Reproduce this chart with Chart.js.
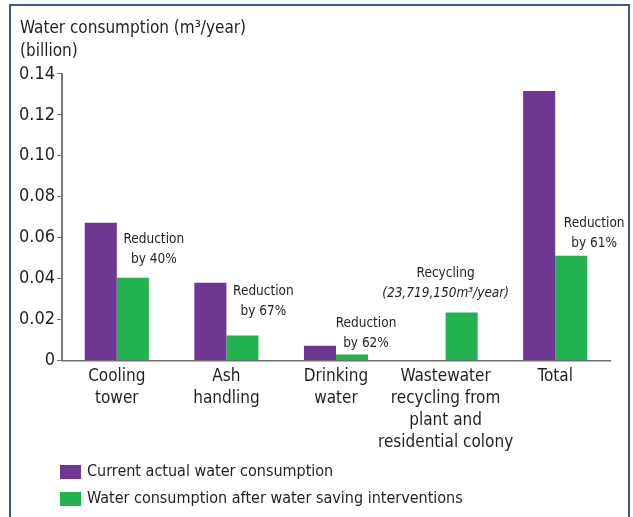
<!DOCTYPE html>
<html lang="en">

<head>
    <meta charset="UTF-8">
    <script src="https://cdn.jsdelivr.net/npm/chart.js"></script>
    <title>Water consumption</title>
    <style>
        body { margin: 0; background: #fff; }
        .moldura {
            position: absolute; left: 9px; top: 4px; width: 617px; height: 530px;
            border: 2px solid #3a5889; border-bottom: none;
        }
        .grafico { position: absolute; left: 0; top: 0; width: 633px; height: 517px; }
    </style>
</head>

<body>
    <div class="moldura"></div>
    <div class="grafico"><canvas id="myChart"></canvas></div>
</body>

<script>
    // dados (bilhoes de m3/ano)
    const categorias = [
        ['Cooling', 'tower'],
        ['Ash', 'handling'],
        ['Drinking', 'water'],
        ['Wastewater', 'recycling from', 'plant and', 'residential colony'],
        ['Total']
    ];
    const consumoAtual = [0.0673, 0.0380, 0.0073, 0, 0.1317];
    const consumoDepois = [0.0405, 0.0122, 0.0030, 0.0235, 0.0512];
    const nomesSeries = ['Current actual water consumption', 'Water consumption after water saving interventions'];
    const ticksY = ['0', '0.02', '0.04', '0.06', '0.08', '0.10', '0.12', '0.14'];
    const notas = [
        ['Reduction', 'by 40%'],
        ['Reduction', 'by 67%'],
        ['Reduction', 'by 62%'],
        ['Recycling', '(23,719,150m³/year)'],
        ['Reduction', 'by 61%']
    ];

    const fonte = "'Liberation Sans Narrow', 'DejaVu Sans Condensed', Roboto, sans-serif";
    const corTexto = '#231f20';
    const roxo = '#703693';
    const verde = '#22b24f';

    // textos de reducao acima das barras verdes
    const pluginNotas = {
        id: 'notas',
        afterDatasetsDraw(chart) {
            const ctx = chart.ctx;
            const meta = chart.getDatasetMeta(1);
            const desloc = [[37, 18], [37, 24], [30, 11], [0, 19], [39, 12]];
            ctx.save();
            ctx.fillStyle = corTexto;
            ctx.textAlign = 'center';
            ctx.textBaseline = 'middle';
            notas.forEach((linhas, i) => {
                const barra = meta.data[i];
                const x = chart.scales.x.getPixelForValue(i) + desloc[i][0];
                const y = barra.y - desloc[i][1];
                ctx.font = '13.5px ' + fonte;
                ctx.fillText(linhas[0], x, y - 20);
                ctx.font = (i == 3 ? 'italic ' : '') + '13.5px ' + fonte;
                ctx.fillText(linhas[1], x, y);
            });
            ctx.restore();
        },
        afterDraw(chart) {
            // legenda vertical
            const ctx = chart.ctx;
            ctx.save();
            ctx.font = '16px ' + fonte;
            ctx.textBaseline = 'middle';
            chart.data.datasets.forEach((ds, i) => {
                const y = 465 + i * 27;
                ctx.fillStyle = ds.backgroundColor;
                ctx.fillRect(60, y, 21, 14);
                ctx.fillStyle = corTexto;
                ctx.fillText(ds.label, 87, y + 7);
            });
            ctx.restore();
        }
    };

    new Chart(document.getElementById('myChart'), {
        type: 'bar',
        data: {
            labels: categorias,
            datasets: [
                { label: nomesSeries[0], data: consumoAtual, backgroundColor: roxo },
                { label: nomesSeries[1], data: consumoDepois, backgroundColor: verde }
            ]
        },
        options: {
            responsive: true,
            maintainAspectRatio: false,
            animation: false,
            layout: { padding: { left: 20, right: 23, top: 6, bottom: 66 } },
            datasets: { bar: { categoryPercentage: 0.585, barPercentage: 1 } },
            plugins: {
                legend: { display: false },
                tooltip: { enabled: false },
                title: {
                    display: true,
                    text: ['Water consumption (m³/year)', '(billion)'],
                    align: 'start',
                    color: corTexto,
                    font: { family: fonte, size: 17, weight: 'normal', lineHeight: 1.35 },
                    padding: { top: 11, bottom: 11 }
                }
            },
            scales: {
                x: {
                    grid: { display: false },
                    border: { color: '#6d6d6d', width: 1.5 },
                    ticks: {
                        color: corTexto,
                        font: { family: fonte, size: 17, lineHeight: 1.3 },
                        padding: -3,
                        maxRotation: 0,
                        autoSkip: false
                    }
                },
                y: {
                    min: 0,
                    max: 0.14,
                    afterFit(scale) { scale.width = 42; },
                    grid: { drawOnChartArea: false, drawTicks: true, tickLength: 5, color: '#6d6d6d' },
                    border: { color: '#7a7a7a', width: 2 },
                    ticks: {
                        stepSize: 0.02,
                        color: corTexto,
                        font: { family: fonte, size: 18 },
                        padding: 2,
                        callback: (v, i) => ticksY[i]
                    }
                }
            }
        },
        plugins: [pluginNotas]
    });
</script>

</html>
